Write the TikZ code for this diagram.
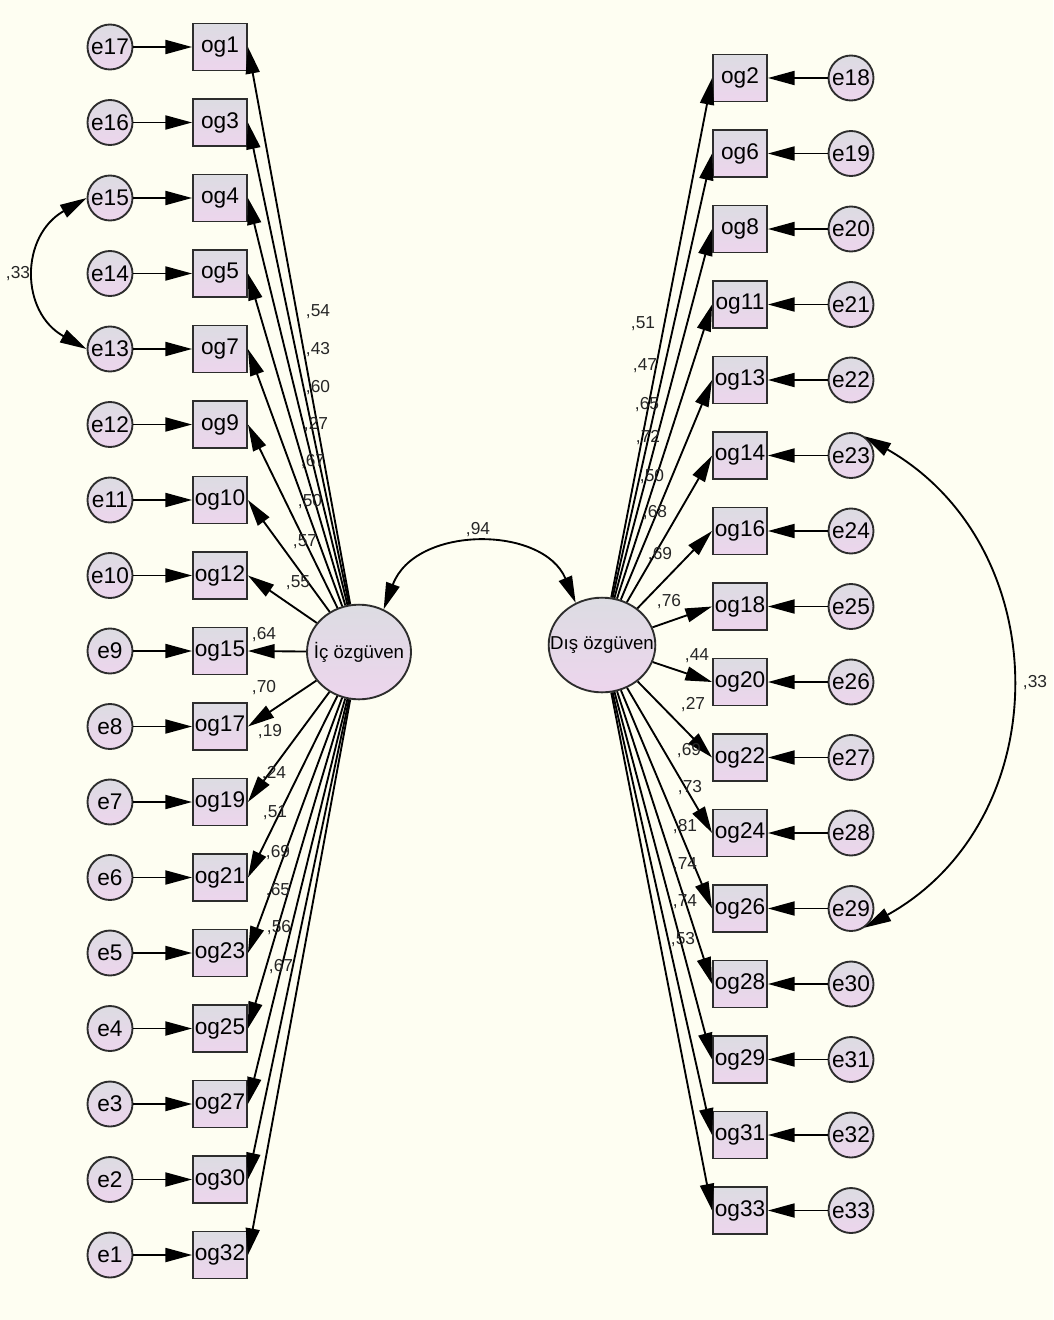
\documentclass[tikz,border=0pt]{standalone}
\usepackage{fontspec}
\setmainfont{Liberation Sans}
\usetikzlibrary{shapes.geometric,arrows.meta}
\definecolor{bg}{RGB}{254,254,242}
\definecolor{ftop}{RGB}{220,220,226}
\definecolor{fbot}{RGB}{237,213,237}
\definecolor{edge}{RGB}{45,45,45}
\tikzset{
  obs/.style={rectangle, draw=edge, line width=1.4pt, minimum width=40.5pt, minimum height=35.25pt, inner sep=0pt, top color=ftop, bottom color=fbot, font=\fontsize{17}{17}\selectfont},
  err/.style={circle, draw=edge, line width=1.4pt, minimum size=33.75pt, inner sep=0pt, top color=ftop, bottom color=fbot, font=\fontsize{17}{17}\selectfont},
  lat/.style={ellipse, draw=edge, line width=1.4pt, minimum width=78pt, minimum height=71pt, inner sep=0pt, top color=ftop, bottom color=fbot, font=\fontsize{14}{14}\selectfont},
  arr/.style={line width=1.4pt, draw=black, -{Triangle[length=20pt,width=10.5pt]}},
  cov/.style={line width=1.4pt, draw=black, {Triangle[length=20pt,width=10.5pt]}-{Triangle[length=20pt,width=10.5pt]}},
  lbl/.style={font=\fontsize{13}{13}\selectfont, inner sep=0pt, text=black!85},
}
\begin{document}
\begin{tikzpicture}[x=0.75pt,y=-0.75pt]
\fill[bg] (0,0) rectangle (1053,1320);
\useasboundingbox (0,0) rectangle (1053,1320);

% latent variables
\node[lat] (ic) at (359,652) {\makebox[0pt]{İç özgüven}};
\node[lat, minimum width=80pt] (dis) at (602,645) {\makebox[0pt]{Dış özgüven}};

% left block
\foreach \n/\e/\i in {1/17/0, 3/16/1, 4/15/2, 5/14/3, 7/13/4, 9/12/5, 10/11/6, 12/10/7, 15/9/8, 17/8/9, 19/7/10, 21/6/11, 23/5/12, 25/4/13, 27/3/14, 30/2/15, 32/1/16} {
  \node[obs] (og\n) at (220,{47+75.5*\i}) {og\n};
  \node[err] (e\e) at (110,{47+75.5*\i}) {e\e};
  \draw[arr] (e\e) -- (og\n);
  \draw[arr] (ic) -- (og\n.east);
}

% right block
\foreach \n/\e/\i in {2/18/0, 6/19/1, 8/20/2, 11/21/3, 13/22/4, 14/23/5, 16/24/6, 18/25/7, 20/26/8, 22/27/9, 24/28/10, 26/29/11, 28/30/12, 29/31/13, 31/32/14, 33/33/15} {
  \node[obs] (og\n) at (740,{78+75.5*\i}) {og\n};
  \node[err] (e\e) at (851,{78+75.5*\i}) {e\e};
  \draw[arr] (e\e) -- (og\n);
  \draw[arr] (dis) -- (og\n.west);
}

% covariances
\draw[cov] (ic.60) .. controls (415,525) and (543,525) .. (dis.122);
\node[lbl] (c94) at (478,530) {,94};
\draw[cov] (e15.west) .. controls (20,236) and (20,312) .. (e13.west);
\node[lbl] (c33a) at (18,274) {,33};
\draw[cov] (e23.55) .. controls (1058,547) and (1058,820) .. (e29.-55);
\node[lbl] (c33b) at (1035,683) {,33};

% left loadings
\foreach \t/\x/\y in {{,54}/318/312, {,43}/318/350, {,60}/318/388, {,27}/316/425, {,67}/313/462, {,50}/310/502, {,57}/305/542, {,55}/298/583, {,64}/264/635, {,70}/264/688, {,19}/270/732, {,24}/274/774, {,51}/275/813, {,69}/278/853, {,65}/278/891, {,56}/279/928, {,67}/281/967} {
  \node[lbl] at (\x,\y) {\t};
}
% right loadings
\foreach \t/\x/\y in {{,51}/643/324, {,47}/645/366, {,65}/647/405, {,72}/648/438, {,50}/652/477, {,68}/655/513, {,69}/660/555, {,76}/669/602, {,44}/697/656, {,27}/693/705, {,69}/689/751, {,73}/690/788, {,81}/685/827, {,74}/685/865, {,74}/685/902, {,53}/683/940} {
  \node[lbl] at (\x,\y) {\t};
}
\end{tikzpicture}
\end{document}
